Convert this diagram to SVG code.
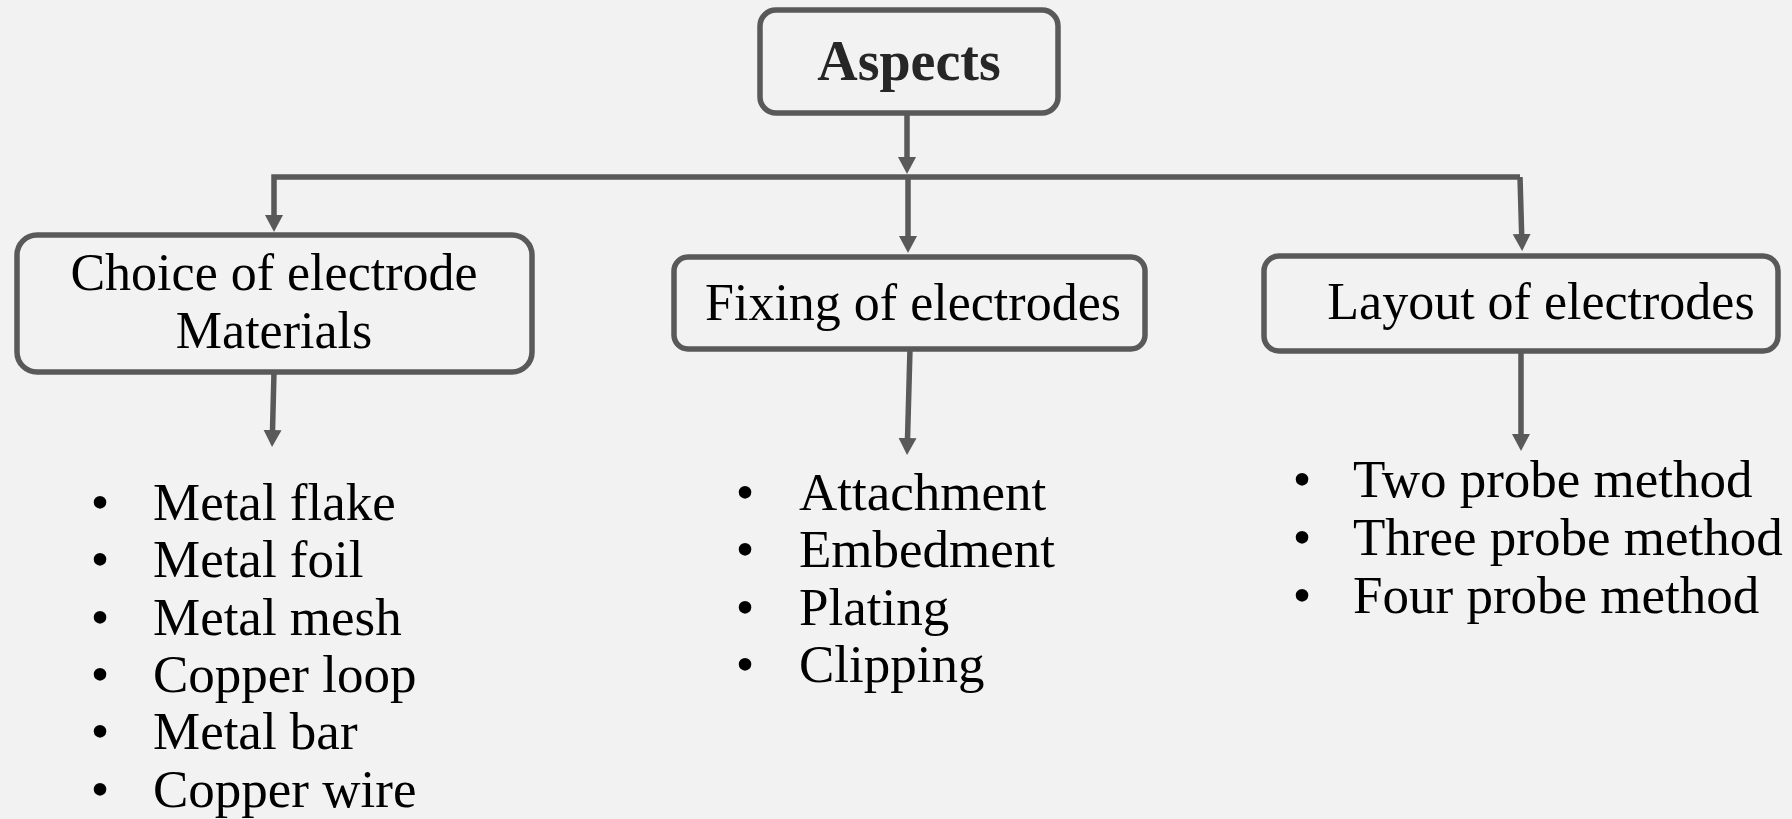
<svg xmlns="http://www.w3.org/2000/svg" width="1792" height="819" viewBox="0 0 1792 819">
  <style>
    .box { fill: #f2f2f2; stroke: #595959; stroke-width: 5.5; }
    .conn { fill: none; stroke: #595959; stroke-width: 5.5; }
    .lbl { font-family: "Liberation Serif", "Times New Roman", serif; font-size: 52px; fill: #000000; }
    .title { font-family: "Liberation Serif", "Times New Roman", serif; font-size: 56px; font-weight: bold; fill: #262626; }
    .item { font-family: "Liberation Serif", "Times New Roman", serif; font-size: 53px; fill: #000000; }
  </style>
  <defs>
    <marker id="ah" markerUnits="userSpaceOnUse" markerWidth="20" markerHeight="20" refX="1" refY="9" orient="auto" viewBox="0 0 20 20">
      <path d="M0,0 L17,9 L0,18 Z" fill="#595959"/>
    </marker>
  </defs>
  <rect x="0" y="0" width="1792" height="819" fill="#f2f2f2"/>

  <g id="connectors">
    <line class="conn" x1="907" y1="113" x2="907" y2="158" marker-end="url(#ah)"/>
    <path class="conn" d="M1520,177 H274 V216" marker-end="url(#ah)"/>
    <path class="conn" d="M1520,177 L1521.7,235" marker-end="url(#ah)"/>
    <line class="conn" x1="908" y1="177" x2="908" y2="237" marker-end="url(#ah)"/>
    <line class="conn" x1="274" y1="372" x2="272.5" y2="431" marker-end="url(#ah)"/>
    <line class="conn" x1="910" y1="349" x2="907.5" y2="439" marker-end="url(#ah)"/>
    <line class="conn" x1="1521" y1="351" x2="1521" y2="435" marker-end="url(#ah)"/>
  </g>

  <g id="aspects">
    <rect class="box" x="760" y="10" width="298" height="103" rx="16"/>
    <text class="title" x="909" y="80" text-anchor="middle">Aspects</text>
  </g>

  <g id="choice">
    <rect class="box" x="17" y="235" width="515" height="137" rx="20"/>
    <text class="lbl" x="274" y="290" text-anchor="middle">Choice of electrode</text>
    <text class="lbl" x="274" y="348" text-anchor="middle">Materials</text>
  </g>

  <g id="fixing">
    <rect class="box" x="674" y="257" width="471" height="92" rx="14"/>
    <text class="lbl" x="913" y="320" text-anchor="middle">Fixing of electrodes</text>
  </g>

  <g id="layout">
    <rect class="box" x="1264" y="256" width="514" height="95" rx="15"/>
    <text class="lbl" x="1541" y="319" text-anchor="middle">Layout of electrodes</text>
  </g>

  <g id="materials-list">
    <text class="item" x="100" y="520" text-anchor="middle">•</text>
    <text class="item" x="153" y="520">Metal flake</text>
    <text class="item" x="100" y="577" text-anchor="middle">•</text>
    <text class="item" x="153" y="577">Metal foil</text>
    <text class="item" x="100" y="635" text-anchor="middle">•</text>
    <text class="item" x="153" y="635">Metal mesh</text>
    <text class="item" x="100" y="692" text-anchor="middle">•</text>
    <text class="item" x="153" y="692">Copper loop</text>
    <text class="item" x="100" y="749" text-anchor="middle">•</text>
    <text class="item" x="153" y="749">Metal bar</text>
    <text class="item" x="100" y="807" text-anchor="middle">•</text>
    <text class="item" x="153" y="807">Copper wire</text>
  </g>

  <g id="fixing-list">
    <text class="item" x="745" y="510" text-anchor="middle">•</text>
    <text class="item" x="799" y="510">Attachment</text>
    <text class="item" x="745" y="567" text-anchor="middle">•</text>
    <text class="item" x="799" y="567">Embedment</text>
    <text class="item" x="745" y="625" text-anchor="middle">•</text>
    <text class="item" x="799" y="625">Plating</text>
    <text class="item" x="745" y="682" text-anchor="middle">•</text>
    <text class="item" x="799" y="682">Clipping</text>
  </g>

  <g id="layout-list">
    <text class="item" x="1302" y="497" text-anchor="middle">•</text>
    <text class="item" x="1353" y="497">Two probe method</text>
    <text class="item" x="1302" y="555" text-anchor="middle">•</text>
    <text class="item" x="1353" y="555">Three probe method</text>
    <text class="item" x="1302" y="613" text-anchor="middle">•</text>
    <text class="item" x="1353" y="613">Four probe method</text>
  </g>
</svg>
